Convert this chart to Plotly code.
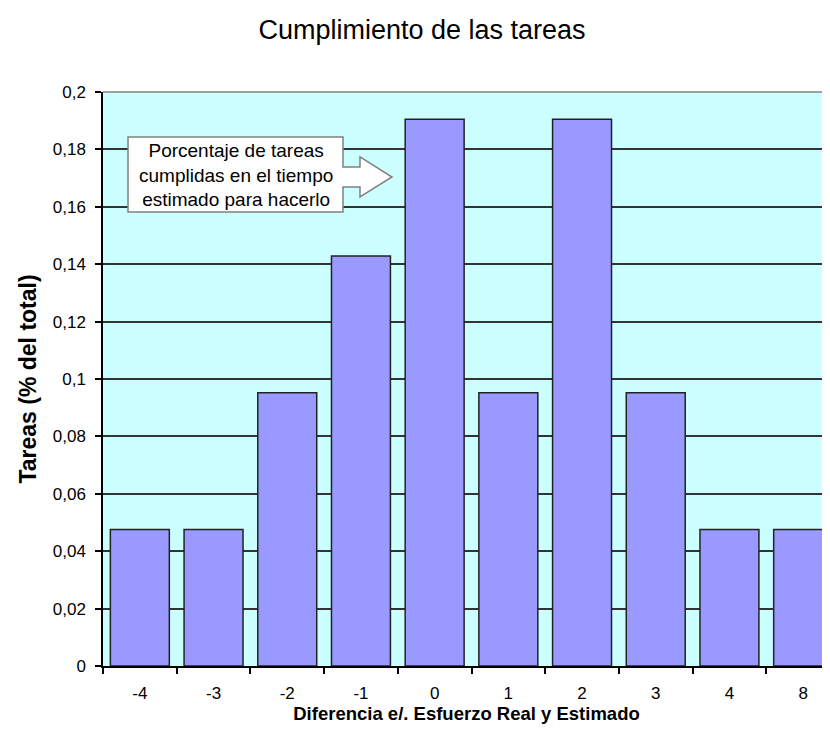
import plotly.graph_objects as go

# data (share of tasks per difference real vs estimated)
categorias = ["-4", "-3", "-2", "-1", "0", "1", "2", "3", "4", "8"]
tareas = [0.0476, 0.0476, 0.0952, 0.1429, 0.1905, 0.0952, 0.1905, 0.0952, 0.0476, 0.0476]
y_ticks = [0, 0.02, 0.04, 0.06, 0.08, 0.1, 0.12, 0.14, 0.16, 0.18, 0.2]

# page body has an 8px margin, so the figure is a bit smaller than the window
OFF = 8
W, H = 830 - OFF, 745 - OFF
left, top, bottom = 103 - OFF, 92 - OFF, 666 - OFF
plot_w = W - left
plot_h = bottom - top


def px(x, y):
    # screen pixel -> paper coords (for the callout only)
    return (x - OFF - left) / plot_w, (bottom - (y - OFF)) / plot_h


fig = go.Figure()

fig.add_trace(go.Bar(
    x=categorias,
    y=tareas,
    marker=dict(color="#9999FF", line=dict(color="#222222", width=1.5)),
    hovertemplate="%{x}: %{y:.3f}<extra></extra>",
))

# callout box with arrow (Excel style)
pts = [(128, 137), (343, 137), (343, 167), (360, 167), (360, 157), (392, 177),
       (360, 197), (360, 187), (343, 187), (343, 212), (128, 212)]
path = "M " + " L ".join(f"{px(a, b)[0]:.4f},{px(a, b)[1]:.4f}" for a, b in pts) + " Z"
fig.add_shape(type="path", path=path, xref="paper", yref="paper",
              fillcolor="white", line=dict(color="#808080", width=1.5), layer="above")

# gray plot-area border at the top
fig.add_shape(type="line", xref="paper", yref="paper", x0=0, x1=1, y0=1, y1=1,
              line=dict(color="#A0A0A0", width=2), layer="above")

tx, ty = px(236, 175)
fig.add_annotation(
    x=tx, y=ty, xref="paper", yref="paper", showarrow=False,
    text="Porcentaje de tareas<br>cumplidas en el tiempo<br>estimado para hacerlo",
    font=dict(family="Liberation Sans, Arial", size=19, color="black"),
    xanchor="center", yanchor="middle", align="center",
)

cat_w = 73.7
fig.update_layout(
    width=W, height=H,
    margin=dict(l=left, r=0, t=top, b=H - bottom, autoexpand=False),
    paper_bgcolor="white",
    plot_bgcolor="#CCFFFF",
    separators=", ",
    showlegend=False,
    bargap=0.2,
    font=dict(family="Liberation Sans, Arial", color="black"),
    title=dict(text="Cumplimiento de las tareas", x=(422 - OFF) / W, xanchor="center",
               y=1 - (30 - OFF) / H, yanchor="middle", font=dict(size=27)),
    xaxis=dict(
        type="category",
        range=[-0.5, -0.5 + plot_w / cat_w],
        tickson="boundaries",
        ticks="outside", ticklen=6, tickcolor="black", tickwidth=1.5,
        tickfont=dict(size=17), ticklabelstandoff=11,
        showgrid=False,
        showline=True, linecolor="black", linewidth=1.5,
        title=dict(text="<b>Diferencia e/. Esfuerzo Real y Estimado</b>",
                   font=dict(size=18.5), standoff=5),
    ),
    yaxis=dict(
        range=[0, 0.2],
        tickvals=y_ticks,
        ticks="outside", ticklen=6, tickcolor="black", tickwidth=1.5,
        tickfont=dict(size=17), ticklabelstandoff=6,
        showgrid=True, gridcolor="#333333", gridwidth=1.5,
        showline=True, linecolor="black", linewidth=1.5,
        zeroline=False,
        title=dict(text="<b>Tareas (% del total)</b>", font=dict(size=23), standoff=10),
    ),
)

fig.write_html("out.html")
